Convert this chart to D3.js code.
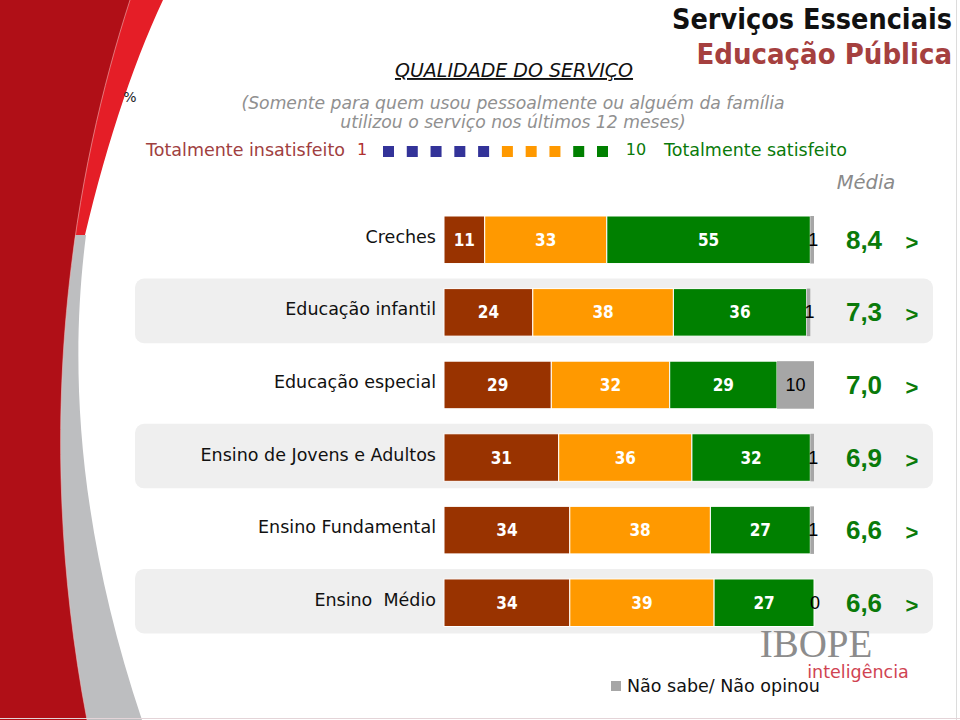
<!DOCTYPE html>
<html><head><meta charset="utf-8">
<script src="https://cdn.jsdelivr.net/npm/d3@7/dist/d3.min.js"></script>
<style>
html,body{margin:0;padding:0;background:#fff;}
svg{display:block;}
text{font-family:"DejaVu Sans",sans-serif;}
.cond{font-family:"DejaVu Sans Condensed","DejaVu Sans",sans-serif;font-stretch:condensed;}
.arial{font-family:"Liberation Sans",Arial,sans-serif;}
.serif{font-family:"Liberation Serif","DejaVu Serif",serif;}
</style></head>
<body>
<svg id="chart" width="960" height="720"></svg>
<script>
// ---- data ----
const categories = ["Creches","Educação infantil","Educação especial","Ensino de Jovens e Adultos","Ensino Fundamental","Ensino  Médio"];
const insatisfeito = [11,24,29,31,34,34];   // notas 1-5
const intermediario = [33,38,32,36,38,39];  // notas 6-8
const satisfeito = [55,36,29,32,27,27];     // notas 9-10
const naoSabe = [1,1,10,1,1,0];             // Não sabe/ Não opinou
const medias = ["8,4","7,3","7,0","6,9","6,6","6,6"];
const scaleNotes = [1,2,3,4,5,6,7,8,9,10];
const scaleGroups = ["baixa","baixa","baixa","baixa","baixa","media","media","media","alta","alta"];
const seriesKeys = ["insatisfeito","intermediario","satisfeito","naoSabe"];

const svg = d3.select("#chart");

// ---- background decoration ----
svg.append("path").attr("d","M0,0 L163,0 C128,75 98,170 74,285 L0,285 Z").attr("fill","#E51E27");
svg.append("path").attr("d","M86,235 C70,360 75,520 142,720 L0,720 L0,235 Z").attr("fill","#BDBEC0");
svg.append("path").attr("d","M0,0 L130,0 C75,170 30,420 87,720 L0,720 Z").attr("fill","#B00F17");
svg.append("path").attr("d","M130,0 C75,170 30,420 87,720").attr("fill","none").attr("stroke","#f3c0c0").attr("stroke-width",0.8).attr("opacity",0.7);
svg.append("line").attr("x1",956.5).attr("x2",956.5).attr("y1",0).attr("y2",720).attr("stroke","#dcdcdc");
svg.append("line").attr("x1",0).attr("x2",960).attr("y1",718.5).attr("y2",718.5).attr("stroke","#e4d4d8");

// ---- table ----
const rows = categories.map((c,i)=>({cat:c, insatisfeito:insatisfeito[i], intermediario:intermediario[i], satisfeito:satisfeito[i], naoSabe:naoSabe[i], media:medias[i], idx:i}));

const x = d3.scaleLinear().domain([0,100]).range([444,814]);
const y = d3.scaleBand().domain(categories).range([216,626.5]).paddingInner(0.345).paddingOuter(0);
const color = d3.scaleOrdinal().domain(seriesKeys).range(["#993300","#FF9900","#008000","#A6A6A6"]);
const labelColor = d3.scaleOrdinal().domain(seriesKeys).range(["#ffffff","#ffffff","#ffffff","#000000"]);

// alternating row bands
svg.append("g").selectAll("rect").data(rows.filter(d=>d.idx%2===1)).join("rect")
  .attr("x",135).attr("width",798)
  .attr("y",d=>y(d.cat)-10).attr("height",y.bandwidth()+17)
  .attr("rx",9).attr("fill","#EFEFEF");

const stacked = d3.stack().keys(seriesKeys)(rows);

const segG = svg.append("g");
stacked.forEach(layer=>{
  const key = layer.key;
  const g = segG.append("g");
  g.selectAll("rect").data(layer).join("rect")
    .attr("x",d=>x(d[0])).attr("width",d=>Math.max(0,x(d[1])-x(d[0])))
    .attr("y",d=>y(d.data.cat)).attr("height",y.bandwidth())
    .attr("fill",color(key))
    .attr("stroke","#ffffff").attr("stroke-width",key==="naoSabe"?0:1);
  g.selectAll("text").data(layer).join("text")
    .attr("class",key==="naoSabe"?"arial":"cond")
    .attr("x",d=>(x(d[0])+x(d[1]))/2 + (key==="naoSabe" && d.data[key]<5 ? 1 : 0))
    .attr("y",d=>y(d.data.cat)+y.bandwidth()/2+6)
    .attr("text-anchor","middle")
    .attr("font-size",key==="naoSabe"?18:17).attr("font-weight",key==="naoSabe"?"normal":"bold")
    .attr("fill",labelColor(key))
    .text(d=>d.data[key]);
});

// category labels
svg.append("g").selectAll("text").data(rows).join("text")
  .attr("x",436).attr("y",d=>y(d.cat)+y.bandwidth()/2+3)
  .attr("text-anchor","end").attr("font-size",17.5).attr("fill","#111")
  .style("white-space","pre")
  .text(d=>d.cat);

// médias
svg.append("g").selectAll("text").data(rows).join("text")
  .attr("class","arial")
  .attr("x",864).attr("y",d=>y(d.cat)+y.bandwidth()/2+9)
  .attr("text-anchor","middle").attr("font-size",26).attr("font-weight","bold").attr("fill","#0A7A0A")
  .text(d=>d.media);
svg.append("g").selectAll("text").data(rows).join("text")
  .attr("class","arial")
  .attr("x",912).attr("y",d=>y(d.cat)+y.bandwidth()/2+10)
  .attr("text-anchor","middle").attr("font-size",22).attr("font-weight","bold").attr("fill","#0A7A0A")
  .text(">");

// ---- headings ----
svg.append("text").attr("class","cond").attr("x",952).attr("y",29).attr("text-anchor","end")
  .attr("font-size",28.5).attr("font-weight","bold").attr("fill","#111").text("Serviços Essenciais");
svg.append("text").attr("class","cond").attr("x",952).attr("y",64).attr("text-anchor","end")
  .attr("font-size",29).attr("font-weight","bold").attr("fill","#A5403F").text("Educação Pública");

svg.append("text").attr("x",514).attr("y",77).attr("text-anchor","middle")
  .attr("font-size",19).attr("font-style","italic").attr("fill","#111")
  .attr("text-decoration","underline").text("QUALIDADE DO SERVIÇO");

svg.append("text").attr("x",130).attr("y",102).attr("text-anchor","middle")
  .attr("font-size",14).attr("fill","#222").text("%");

svg.append("text").attr("x",513).attr("y",109).attr("text-anchor","middle")
  .attr("font-size",17.2).attr("font-style","italic").attr("fill","#909090")
  .text("(Somente para quem usou pessoalmente ou alguém da família");
svg.append("text").attr("x",513).attr("y",128).attr("text-anchor","middle")
  .attr("font-size",17.2).attr("font-style","italic").attr("fill","#909090")
  .text("utilizou o serviço nos últimos 12 meses)");

// scale legend
svg.append("text").attr("x",345).attr("y",156).attr("text-anchor","end")
  .attr("font-size",17.5).attr("fill","#A04040").text("Totalmente insatisfeito");
svg.append("text").attr("x",362).attr("y",155).attr("text-anchor","middle")
  .attr("font-size",16).attr("fill","#B03030").text(scaleNotes[0]);
const sx = d3.scalePoint().domain(scaleNotes).range([383,597]);
const sColor = d3.scaleOrdinal().domain(["baixa","media","alta"]).range(["#333399","#FF9900","#008000"]);
svg.append("g").selectAll("rect").data(scaleNotes).join("rect")
  .attr("x",d=>sx(d)).attr("y",146).attr("width",11).attr("height",11)
  .attr("fill",(d,i)=>sColor(scaleGroups[i]));
svg.append("text").attr("x",636).attr("y",155).attr("text-anchor","middle")
  .attr("font-size",16).attr("fill","#0A7A0A").text(scaleNotes[9]);
svg.append("text").attr("x",664).attr("y",156)
  .attr("font-size",17.5).attr("fill","#0A7A0A").text("Totalmente satisfeito");

svg.append("text").attr("x",866).attr("y",189).attr("text-anchor","middle")
  .attr("font-size",19.5).attr("font-style","italic").attr("fill","#8a8a8a").text("Média");

// IBOPE logo
svg.append("text").attr("class","serif").attr("x",816).attr("y",657).attr("text-anchor","middle")
  .attr("font-size",39).attr("fill","#8c8c8c").text("IBOPE");
svg.append("text").attr("x",858).attr("y",678).attr("text-anchor","middle")
  .attr("font-size",17.5).attr("fill","#D04452").text("inteligência");

// bottom legend
svg.append("rect").attr("x",611).attr("y",681).attr("width",10).attr("height",10).attr("fill",color("naoSabe"));
svg.append("text").attr("x",627).attr("y",692)
  .attr("font-size",17.5).attr("fill","#111").text("Não sabe/ Não opinou");
</script>
</body></html>
